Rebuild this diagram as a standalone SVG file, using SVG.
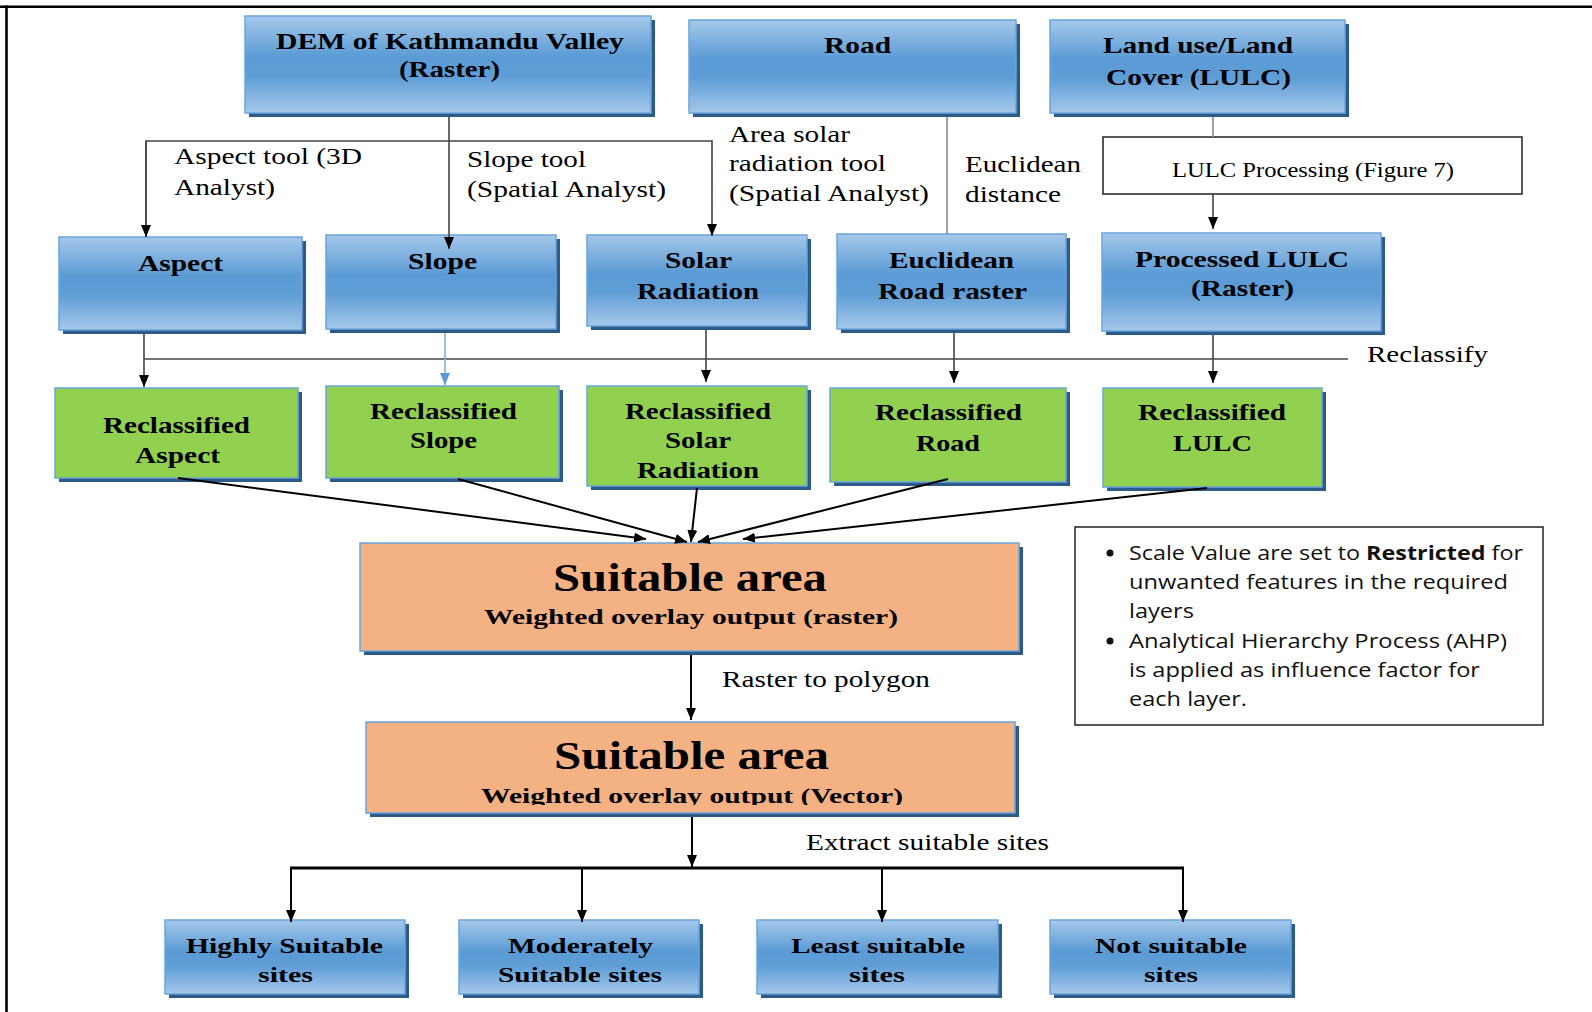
<svg xmlns="http://www.w3.org/2000/svg" width="1592" height="1012" viewBox="0 0 1592 1012">
<defs>
<linearGradient id="gBlue" x1="0" y1="0" x2="0" y2="1">
<stop offset="0" stop-color="#a6c8ea"/>
<stop offset="0.42" stop-color="#5b9bd5"/>
<stop offset="0.62" stop-color="#5e9dd6"/>
<stop offset="1" stop-color="#a6c8ea"/>
</linearGradient>
<marker id="arr" viewBox="0 0 12 10" refX="12" refY="5" markerWidth="12" markerHeight="10" markerUnits="userSpaceOnUse" orient="auto">
<path d="M0,0 L12,5 L0,10 z" fill="#000"/>
</marker>
<marker id="arrB" viewBox="0 0 12 10" refX="12" refY="5" markerWidth="12" markerHeight="10" markerUnits="userSpaceOnUse" orient="auto">
<path d="M0,0 L12,5 L0,10 z" fill="#5b9bd5"/>
</marker>
<clipPath id="clipV"><rect x="366" y="722" width="649" height="83"/></clipPath>
</defs>
<style>
.sh{fill:#2d5b89}
.bl{fill:url(#gBlue);stroke:#6aa5dc;stroke-width:1.5}
.gr{fill:#92d050;stroke:#6aa5dc;stroke-width:1.5}
.or{fill:#f4b183;stroke:#6aa5dc;stroke-width:1.5}
.t{font-family:"Liberation Serif","Times New Roman",serif;font-weight:bold;font-size:24px;fill:#000}
.tb{font-family:"Liberation Serif","Times New Roman",serif;font-weight:bold;font-size:22px;fill:#000}
.big{font-family:"Liberation Serif","Times New Roman",serif;font-weight:bold;font-size:41px;fill:#000}
.lab{font-family:"Liberation Serif","Times New Roman",serif;font-size:23px;fill:#000}
.sm{font-family:"Liberation Serif","Times New Roman",serif;font-size:20px;fill:#000}
.sans{font-family:"Open Sans","Liberation Sans",sans-serif;font-size:20px;fill:#111}
.c{fill:none;stroke:#444;stroke-width:1.6}
.k{fill:none;stroke:#000;stroke-width:2}
</style>
<rect width="1592" height="1012" fill="#fff"/>
<g id="frame">
<line x1="0" y1="6.7" x2="1592" y2="6.7" stroke="#000" stroke-width="2.6"/>
<line x1="6.5" y1="5.5" x2="6.5" y2="1012" stroke="#000" stroke-width="2.6"/>
</g>

<g id="dem">
<rect class="sh" x="249" y="20" width="406" height="97"/>
<rect class="bl" x="245" y="16" width="406" height="97"/>
<text class="t" x="276" y="49" textLength="348" lengthAdjust="spacingAndGlyphs">DEM of Kathmandu Valley</text>
<text class="t" x="399" y="77" textLength="101" lengthAdjust="spacingAndGlyphs">(Raster)</text>
</g>
<g id="road">
<rect class="sh" x="693" y="24" width="327" height="93"/>
<rect class="bl" x="689" y="20" width="327" height="93"/>
<text class="t" x="824" y="53" textLength="67" lengthAdjust="spacingAndGlyphs">Road</text>
</g>
<g id="lulc">
<rect class="sh" x="1054" y="24" width="295" height="93"/>
<rect class="bl" x="1050" y="20" width="295" height="93"/>
<text class="t" x="1103" y="53" textLength="190" lengthAdjust="spacingAndGlyphs">Land use/Land</text>
<text class="t" x="1106" y="85" textLength="185" lengthAdjust="spacingAndGlyphs">Cover (LULC)</text>
</g>
<g id="lulc-processing">
<rect x="1103" y="137" width="419" height="57" fill="#fff" stroke="#222" stroke-width="1.5"/>
<text class="sm" x="1172" y="177" textLength="282" lengthAdjust="spacingAndGlyphs">LULC Processing (Figure 7)</text>
</g>

<g id="aspect">
<rect class="sh" x="63" y="241" width="243" height="93"/>
<rect class="bl" x="59" y="237" width="243" height="93"/>
<text class="t" x="138" y="271" textLength="85" lengthAdjust="spacingAndGlyphs">Aspect</text>
</g>
<g id="slope">
<rect class="sh" x="330" y="239" width="230" height="94"/>
<rect class="bl" x="326" y="235" width="230" height="94"/>
<text class="t" x="408" y="269" textLength="69" lengthAdjust="spacingAndGlyphs">Slope</text>
</g>
<g id="solar">
<rect class="sh" x="591" y="239" width="220" height="91"/>
<rect class="bl" x="587" y="235" width="220" height="91"/>
<text class="t" x="665" y="268" textLength="67" lengthAdjust="spacingAndGlyphs">Solar</text>
<text class="t" x="637" y="299" textLength="122" lengthAdjust="spacingAndGlyphs">Radiation</text>
</g>
<g id="euclidean">
<rect class="sh" x="841" y="238" width="229" height="95"/>
<rect class="bl" x="837" y="234" width="229" height="95"/>
<text class="t" x="889" y="268" textLength="125" lengthAdjust="spacingAndGlyphs">Euclidean</text>
<text class="t" x="878" y="299" textLength="149" lengthAdjust="spacingAndGlyphs">Road raster</text>
</g>
<g id="processed-lulc">
<rect class="sh" x="1106" y="237" width="279" height="98"/>
<rect class="bl" x="1102" y="233" width="279" height="98"/>
<text class="t" x="1135" y="267" textLength="214" lengthAdjust="spacingAndGlyphs">Processed LULC</text>
<text class="t" x="1191" y="296" textLength="103" lengthAdjust="spacingAndGlyphs">(Raster)</text>
</g>

<g id="reclass-aspect">
<rect class="sh" x="59" y="392" width="243" height="90"/>
<rect class="gr" x="55" y="388" width="243" height="90"/>
<text class="t" x="103" y="433" textLength="147" lengthAdjust="spacingAndGlyphs">Reclassified</text>
<text class="t" x="135" y="463" textLength="85" lengthAdjust="spacingAndGlyphs">Aspect</text>
</g>
<g id="reclass-slope">
<rect class="sh" x="330" y="390" width="233" height="92"/>
<rect class="gr" x="326" y="386" width="233" height="92"/>
<text class="t" x="370" y="419" textLength="147" lengthAdjust="spacingAndGlyphs">Reclassified</text>
<text class="t" x="410" y="448" textLength="67" lengthAdjust="spacingAndGlyphs">Slope</text>
</g>
<g id="reclass-solar">
<rect class="sh" x="591" y="390" width="220" height="100"/>
<rect class="gr" x="587" y="386" width="220" height="100"/>
<text class="t" x="625" y="419" textLength="146" lengthAdjust="spacingAndGlyphs">Reclassified</text>
<text class="t" x="665" y="448" textLength="66" lengthAdjust="spacingAndGlyphs">Solar</text>
<text class="t" x="637" y="478" textLength="122" lengthAdjust="spacingAndGlyphs">Radiation</text>
</g>
<g id="reclass-road">
<rect class="sh" x="834" y="392" width="236" height="94"/>
<rect class="gr" x="830" y="388" width="236" height="94"/>
<text class="t" x="875" y="420" textLength="147" lengthAdjust="spacingAndGlyphs">Reclassified</text>
<text class="t" x="916" y="451" textLength="64" lengthAdjust="spacingAndGlyphs">Road</text>
</g>
<g id="reclass-lulc">
<rect class="sh" x="1107" y="392" width="219" height="99"/>
<rect class="gr" x="1103" y="388" width="219" height="99"/>
<text class="t" x="1138" y="420" textLength="148" lengthAdjust="spacingAndGlyphs">Reclassified</text>
<text class="t" x="1173" y="451" textLength="79" lengthAdjust="spacingAndGlyphs">LULC</text>
</g>

<g id="suitable-raster">
<rect class="sh" x="364" y="547" width="659" height="108"/>
<rect class="or" x="360" y="543" width="659" height="108"/>
<text class="big" x="553" y="591" textLength="274" lengthAdjust="spacingAndGlyphs">Suitable area</text>
<text class="tb" x="484" y="624" textLength="414" lengthAdjust="spacingAndGlyphs">Weighted overlay output (raster)</text>
</g>
<g id="suitable-vector">
<rect class="sh" x="370" y="726" width="649" height="91"/>
<rect class="or" x="366" y="722" width="649" height="91"/>
<text class="big" x="554" y="769" textLength="275" lengthAdjust="spacingAndGlyphs">Suitable area</text>
<text class="tb" x="481" y="803" textLength="422" lengthAdjust="spacingAndGlyphs" clip-path="url(#clipV)">Weighted overlay output (Vector)</text>
</g>

<g id="info">
<rect x="1075" y="527" width="468" height="198" fill="#fff" stroke="#222" stroke-width="1.5"/>
<circle cx="1110" cy="553" r="3.5" fill="#111"/>
<circle cx="1110" cy="641" r="3.5" fill="#111"/>
<text class="sans" x="1129" y="560" textLength="394" lengthAdjust="spacingAndGlyphs">Scale Value are set to <tspan font-weight="bold">Restricted</tspan> for</text>
<text class="sans" x="1129" y="589" textLength="379" lengthAdjust="spacingAndGlyphs">unwanted features in the required</text>
<text class="sans" x="1129" y="618" textLength="65" lengthAdjust="spacingAndGlyphs">layers</text>
<text class="sans" x="1129" y="648" textLength="378" lengthAdjust="spacingAndGlyphs">Analytical Hierarchy Process (AHP)</text>
<text class="sans" x="1129" y="677" textLength="351" lengthAdjust="spacingAndGlyphs">is applied as influence factor for</text>
<text class="sans" x="1129" y="706" textLength="118" lengthAdjust="spacingAndGlyphs">each layer.</text>
</g>

<g id="highly">
<rect class="sh" x="169" y="924" width="240" height="74"/>
<rect class="bl" x="165" y="920" width="240" height="74"/>
<text class="tb" x="186" y="953" textLength="197" lengthAdjust="spacingAndGlyphs">Highly Suitable</text>
<text class="tb" x="258" y="982" textLength="55" lengthAdjust="spacingAndGlyphs">sites</text>
</g>
<g id="moderately">
<rect class="sh" x="463" y="924" width="240" height="74"/>
<rect class="bl" x="459" y="920" width="240" height="74"/>
<text class="tb" x="508" y="953" textLength="145" lengthAdjust="spacingAndGlyphs">Moderately</text>
<text class="tb" x="498" y="982" textLength="164" lengthAdjust="spacingAndGlyphs">Suitable sites</text>
</g>
<g id="least">
<rect class="sh" x="761" y="924" width="241" height="74"/>
<rect class="bl" x="757" y="920" width="241" height="74"/>
<text class="tb" x="791" y="953" textLength="174" lengthAdjust="spacingAndGlyphs">Least suitable</text>
<text class="tb" x="849" y="982" textLength="56" lengthAdjust="spacingAndGlyphs">sites</text>
</g>
<g id="not-suitable">
<rect class="sh" x="1054" y="924" width="241" height="74"/>
<rect class="bl" x="1050" y="920" width="241" height="74"/>
<text class="tb" x="1095" y="953" textLength="152" lengthAdjust="spacingAndGlyphs">Not suitable</text>
<text class="tb" x="1144" y="982" textLength="54" lengthAdjust="spacingAndGlyphs">sites</text>
</g>

<g id="connectors">
<line class="c" x1="449" y1="117" x2="449" y2="249" marker-end="url(#arr)"/>
<polyline class="c" points="146,237 146,141 712,141 712,236" marker-end="url(#arr)"/>
<line class="c" x1="146" y1="141" x2="146" y2="237" marker-end="url(#arr)"/>
<line x1="947" y1="117" x2="947" y2="234" stroke="#8a8a8a" stroke-width="1.6"/>
<line x1="1213" y1="117" x2="1213" y2="137" stroke="#8a8a8a" stroke-width="1.6"/>
<line class="c" x1="1213" y1="194" x2="1213" y2="229" marker-end="url(#arr)"/>
<line x1="144" y1="359" x2="1348" y2="359" stroke="#444" stroke-width="1.6"/>
<line class="c" x1="144" y1="334" x2="144" y2="387" marker-end="url(#arr)"/>
<line x1="445" y1="333" x2="445" y2="385" stroke="#7fb0e0" stroke-width="1.6" marker-end="url(#arrB)"/>
<line class="c" x1="706" y1="330" x2="706" y2="382" marker-end="url(#arr)"/>
<line class="c" x1="954" y1="333" x2="954" y2="383" marker-end="url(#arr)"/>
<line class="c" x1="1213" y1="335" x2="1213" y2="383" marker-end="url(#arr)"/>
<line class="k" x1="178" y1="478" x2="646" y2="539" marker-end="url(#arr)"/>
<line class="k" x1="458" y1="479" x2="687" y2="542" marker-end="url(#arr)"/>
<line class="k" x1="697" y1="488" x2="691" y2="542" marker-end="url(#arr)"/>
<line class="k" x1="948" y1="479" x2="698" y2="542" marker-end="url(#arr)"/>
<line class="k" x1="1207" y1="488" x2="743" y2="539" marker-end="url(#arr)"/>
<line class="k" x1="691" y1="655" x2="691" y2="720" marker-end="url(#arr)"/>
<line class="k" x1="692" y1="817" x2="692" y2="867" marker-end="url(#arr)"/>
<line x1="290" y1="868" x2="1184" y2="868" stroke="#000" stroke-width="3"/>
<line class="k" x1="291" y1="868" x2="291" y2="922" marker-end="url(#arr)"/>
<line class="k" x1="582" y1="868" x2="582" y2="922" marker-end="url(#arr)"/>
<line class="k" x1="882" y1="868" x2="882" y2="922" marker-end="url(#arr)"/>
<line class="k" x1="1183" y1="868" x2="1183" y2="922" marker-end="url(#arr)"/>
</g>

<g id="edge-labels">
<text class="lab" x="174" y="164" textLength="188" lengthAdjust="spacingAndGlyphs">Aspect tool (3D</text>
<text class="lab" x="174" y="195" textLength="101" lengthAdjust="spacingAndGlyphs">Analyst)</text>
<text class="lab" x="467" y="167" textLength="119" lengthAdjust="spacingAndGlyphs">Slope tool</text>
<text class="lab" x="467" y="197" textLength="199" lengthAdjust="spacingAndGlyphs">(Spatial Analyst)</text>
<text class="lab" x="729" y="142" textLength="121" lengthAdjust="spacingAndGlyphs">Area solar</text>
<text class="lab" x="729" y="171" textLength="157" lengthAdjust="spacingAndGlyphs">radiation tool</text>
<text class="lab" x="729" y="201" textLength="200" lengthAdjust="spacingAndGlyphs">(Spatial Analyst)</text>
<text class="lab" x="965" y="172" textLength="116" lengthAdjust="spacingAndGlyphs">Euclidean</text>
<text class="lab" x="965" y="202" textLength="96" lengthAdjust="spacingAndGlyphs">distance</text>
<text class="lab" x="1367" y="362" textLength="121" lengthAdjust="spacingAndGlyphs">Reclassify</text>
<text class="lab" x="722" y="687" textLength="208" lengthAdjust="spacingAndGlyphs">Raster to polygon</text>
<text class="lab" x="806" y="850" textLength="243" lengthAdjust="spacingAndGlyphs">Extract suitable sites</text>
</g>
</svg>
